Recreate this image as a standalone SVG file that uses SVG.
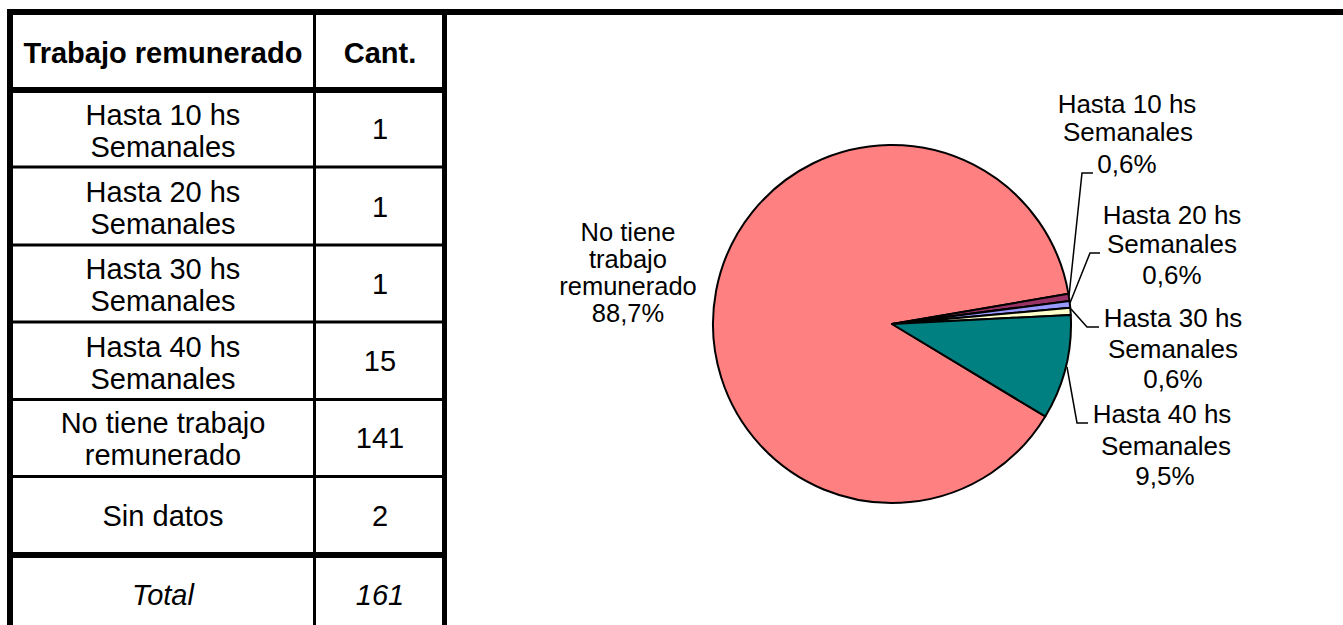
<svg xmlns="http://www.w3.org/2000/svg" width="1343" height="625" viewBox="0 0 1343 625">
<style>
.t{font-family:"Liberation Sans",Arial,sans-serif;font-size:29px;fill:#000;text-anchor:middle}
.b{font-weight:bold}
.i{font-style:italic}
.l{font-family:"Liberation Sans",Arial,sans-serif;font-size:26px;fill:#000;text-anchor:middle}
.thick{stroke:#000;stroke-width:6;fill:none}
.thin{stroke:#000;stroke-width:3;fill:none}
.sl{stroke:#000;stroke-width:2;stroke-linejoin:round}
.ld{stroke:#000;stroke-width:1.5;fill:none}
</style>
<rect width="1343" height="625" fill="#fff"/>
<g id="table">
<line class="thick" x1="7" y1="12" x2="1343" y2="12"/>
<line class="thick" x1="10" y1="9" x2="10" y2="625"/>
<line class="thick" x1="444.5" y1="9" x2="444.5" y2="625" style="stroke-width:5"/>
<line class="thin" x1="314.5" y1="12" x2="314.5" y2="625"/>
<line class="thick" x1="7" y1="90" x2="447" y2="90"/>
<line class="thin" x1="7" y1="167" x2="447" y2="167"/>
<line class="thin" x1="7" y1="245" x2="447" y2="245"/>
<line class="thin" x1="7" y1="322" x2="447" y2="322"/>
<line class="thin" x1="7" y1="399.5" x2="447" y2="399.5"/>
<line class="thin" x1="7" y1="476.5" x2="447" y2="476.5"/>
<line class="thick" x1="7" y1="555" x2="447" y2="555"/>
<text class="t b" x="163" y="63">Trabajo remunerado</text>
<text class="t b" x="380" y="63">Cant.</text>
<text class="t" x="163" y="124.5">Hasta 10 hs</text>
<text class="t" x="163" y="156.5">Semanales</text>
<text class="t" x="380" y="139">1</text>
<text class="t" x="163" y="202">Hasta 20 hs</text>
<text class="t" x="163" y="234">Semanales</text>
<text class="t" x="380" y="216.5">1</text>
<text class="t" x="163" y="279">Hasta 30 hs</text>
<text class="t" x="163" y="311">Semanales</text>
<text class="t" x="380" y="294">1</text>
<text class="t" x="163" y="356.5">Hasta 40 hs</text>
<text class="t" x="163" y="388.5">Semanales</text>
<text class="t" x="380" y="371">15</text>
<text class="t" x="163" y="433">No tiene trabajo</text>
<text class="t" x="163" y="465">remunerado</text>
<text class="t" x="380" y="448">141</text>
<text class="t" x="163" y="526">Sin datos</text>
<text class="t" x="380" y="526">2</text>
<text class="t i" x="163" y="605">Total</text>
<text class="t i" x="380" y="605">161</text>
</g>
<g id="pie">
<path id="s-no" class="sl" fill="#FF8080" d="M892,324 L1045.27,416.46 A179,179 0 1 1 1068.44,293.84 Z"/>
<path id="s-10" class="sl" fill="#993366" d="M892,324 L1068.44,293.84 A179,179 0 0 1 1069.51,300.94 Z"/>
<path id="s-20" class="sl" fill="#9999FF" d="M892,324 L1069.51,300.94 A179,179 0 0 1 1070.26,307.78 Z"/>
<path id="s-30" class="sl" fill="#FFFFCC" d="M892,324 L1070.26,307.78 A179,179 0 0 1 1070.77,314.94 Z"/>
<path id="s-40" class="sl" fill="#008080" d="M892,324 L1070.77,314.94 A179,179 0 0 1 1045.27,416.46 Z"/>
</g>
<g id="connectors">
<polyline class="ld" points="1069,296 1082,173 1093,173"/>
<polyline class="ld" points="1070,303 1090,253 1100,253"/>
<polyline class="ld" points="1071,309 1087,327 1099,327"/>
<polyline class="ld" points="1067,367 1077,423 1088,423"/>
</g>
<g id="labels">
<g id="lbl-no"><text class="l" x="628" y="241" style="font-size:25.5px">No tiene</text><text class="l" x="628" y="268" style="font-size:25.5px">trabajo</text><text class="l" x="628" y="295" style="font-size:25.5px">remunerado</text><text class="l" x="628" y="322" style="font-size:25.5px">88,7%</text></g>
<g id="lbl-10"><text class="l" x="1127" y="113">Hasta 10 hs</text><text class="l" x="1128" y="141">Semanales</text><text class="l" x="1127" y="173">0,6%</text></g>
<g id="lbl-20"><text class="l" x="1172" y="224">Hasta 20 hs</text><text class="l" x="1172" y="252.5">Semanales</text><text class="l" x="1172" y="284">0,6%</text></g>
<g id="lbl-30"><text class="l" x="1173" y="327">Hasta 30 hs</text><text class="l" x="1173" y="358">Semanales</text><text class="l" x="1173" y="388">0,6%</text></g>
<g id="lbl-40"><text class="l" x="1162" y="423">Hasta 40 hs</text><text class="l" x="1166" y="455">Semanales</text><text class="l" x="1165" y="485">9,5%</text></g>
</g>
</svg>
